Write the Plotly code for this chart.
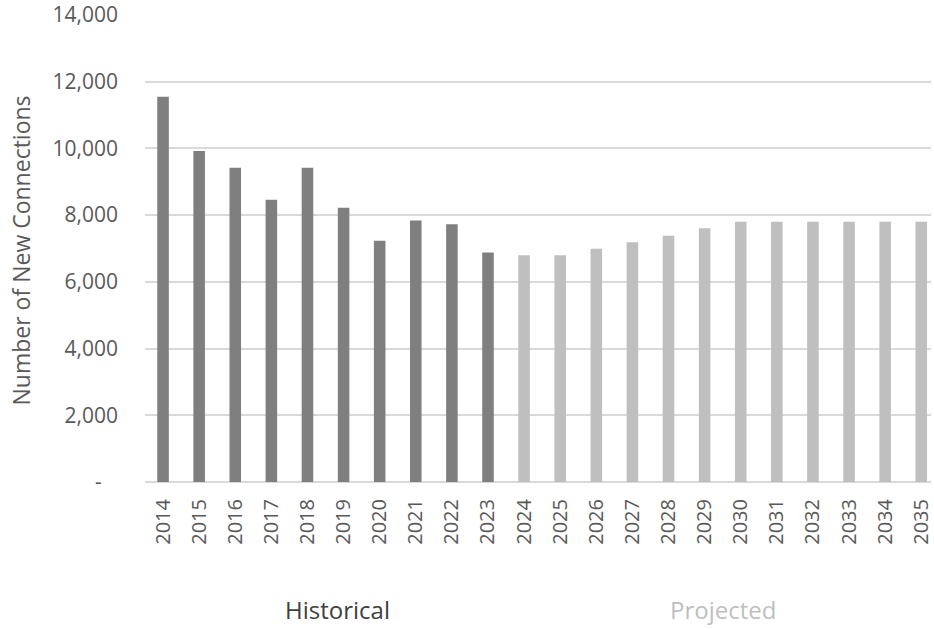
import plotly.graph_objects as go

# New connections per year
hist_years = ["2014", "2015", "2016", "2017", "2018", "2019", "2020", "2021", "2022", "2023"]
hist_values = [11550, 9920, 9420, 8460, 9420, 8220, 7230, 7840, 7730, 6880]

proj_years = ["2024", "2025", "2026", "2027", "2028", "2029", "2030", "2031", "2032", "2033", "2034", "2035"]
proj_values = [6800, 6800, 6990, 7190, 7380, 7610, 7800, 7800, 7800, 7800, 7800, 7800]

y_tickvals = [0, 2000, 4000, 6000, 8000, 10000, 12000, 14000]
y_ticktext = ["-\u00a0\u00a0\u00a0", "2,000", "4,000", "6,000", "8,000", "10,000", "12,000", "14,000"]

all_years = hist_years + proj_years

FONT = "Open Sans, Segoe UI, Noto Sans, sans-serif"
TEXT = "#595959"

fig = go.Figure()
fig.add_trace(go.Bar(x=hist_years, y=hist_values, marker=dict(color="#7f7f7f", line=dict(width=0)),
                     name="Historical", showlegend=False))
fig.add_trace(go.Bar(x=proj_years, y=proj_values, marker=dict(color="#bfbfbf", line=dict(width=0)),
                     name="Projected", showlegend=False))

fig.update_layout(
    width=934, height=629,
    margin=dict(l=145, r=0, t=15, b=147),
    plot_bgcolor="white", paper_bgcolor="white",
    bargap=0.68,
    font=dict(family=FONT, size=20, color=TEXT),
    xaxis=dict(
        type="category", categoryorder="array", categoryarray=all_years,
        range=[-0.5, 21.27],
        tickangle=-90, showgrid=False, zeroline=False,
        showline=False, ticks="", ticklabelstandoff=12,
        tickfont=dict(size=20, color=TEXT),
    ),
    yaxis=dict(
        range=[0, 14000], tickvals=y_tickvals, ticktext=y_ticktext,
        showgrid=True, gridcolor="#d9d9d9", gridwidth=1.5,
        zeroline=True, zerolinecolor="#d9d9d9", zerolinewidth=2,
        showline=False, ticks="", ticklabelstandoff=26,
        tickfont=dict(size=21, color=TEXT),
    ),
    annotations=[
        dict(text="Number of New Connections", textangle=-90, xref="paper", yref="paper",
             x=(21 - 145) / 789, y=(482 - 250) / 467, xanchor="center", yanchor="middle",
             showarrow=False, font=dict(size=23, color=TEXT)),
        dict(text="Historical", xref="x", yref="paper", x=4.5, xshift=12, y=-(609 - 482) / 467,
             xanchor="center", yanchor="middle", showarrow=False,
             font=dict(size=24, color="#404040")),
        dict(text="Projected", xref="x", yref="paper", x=15.5, y=-(609 - 482) / 467,
             xanchor="center", yanchor="middle", showarrow=False,
             font=dict(size=24, color="#bfbfbf")),
    ],
)

fig.write_html("out.html")
